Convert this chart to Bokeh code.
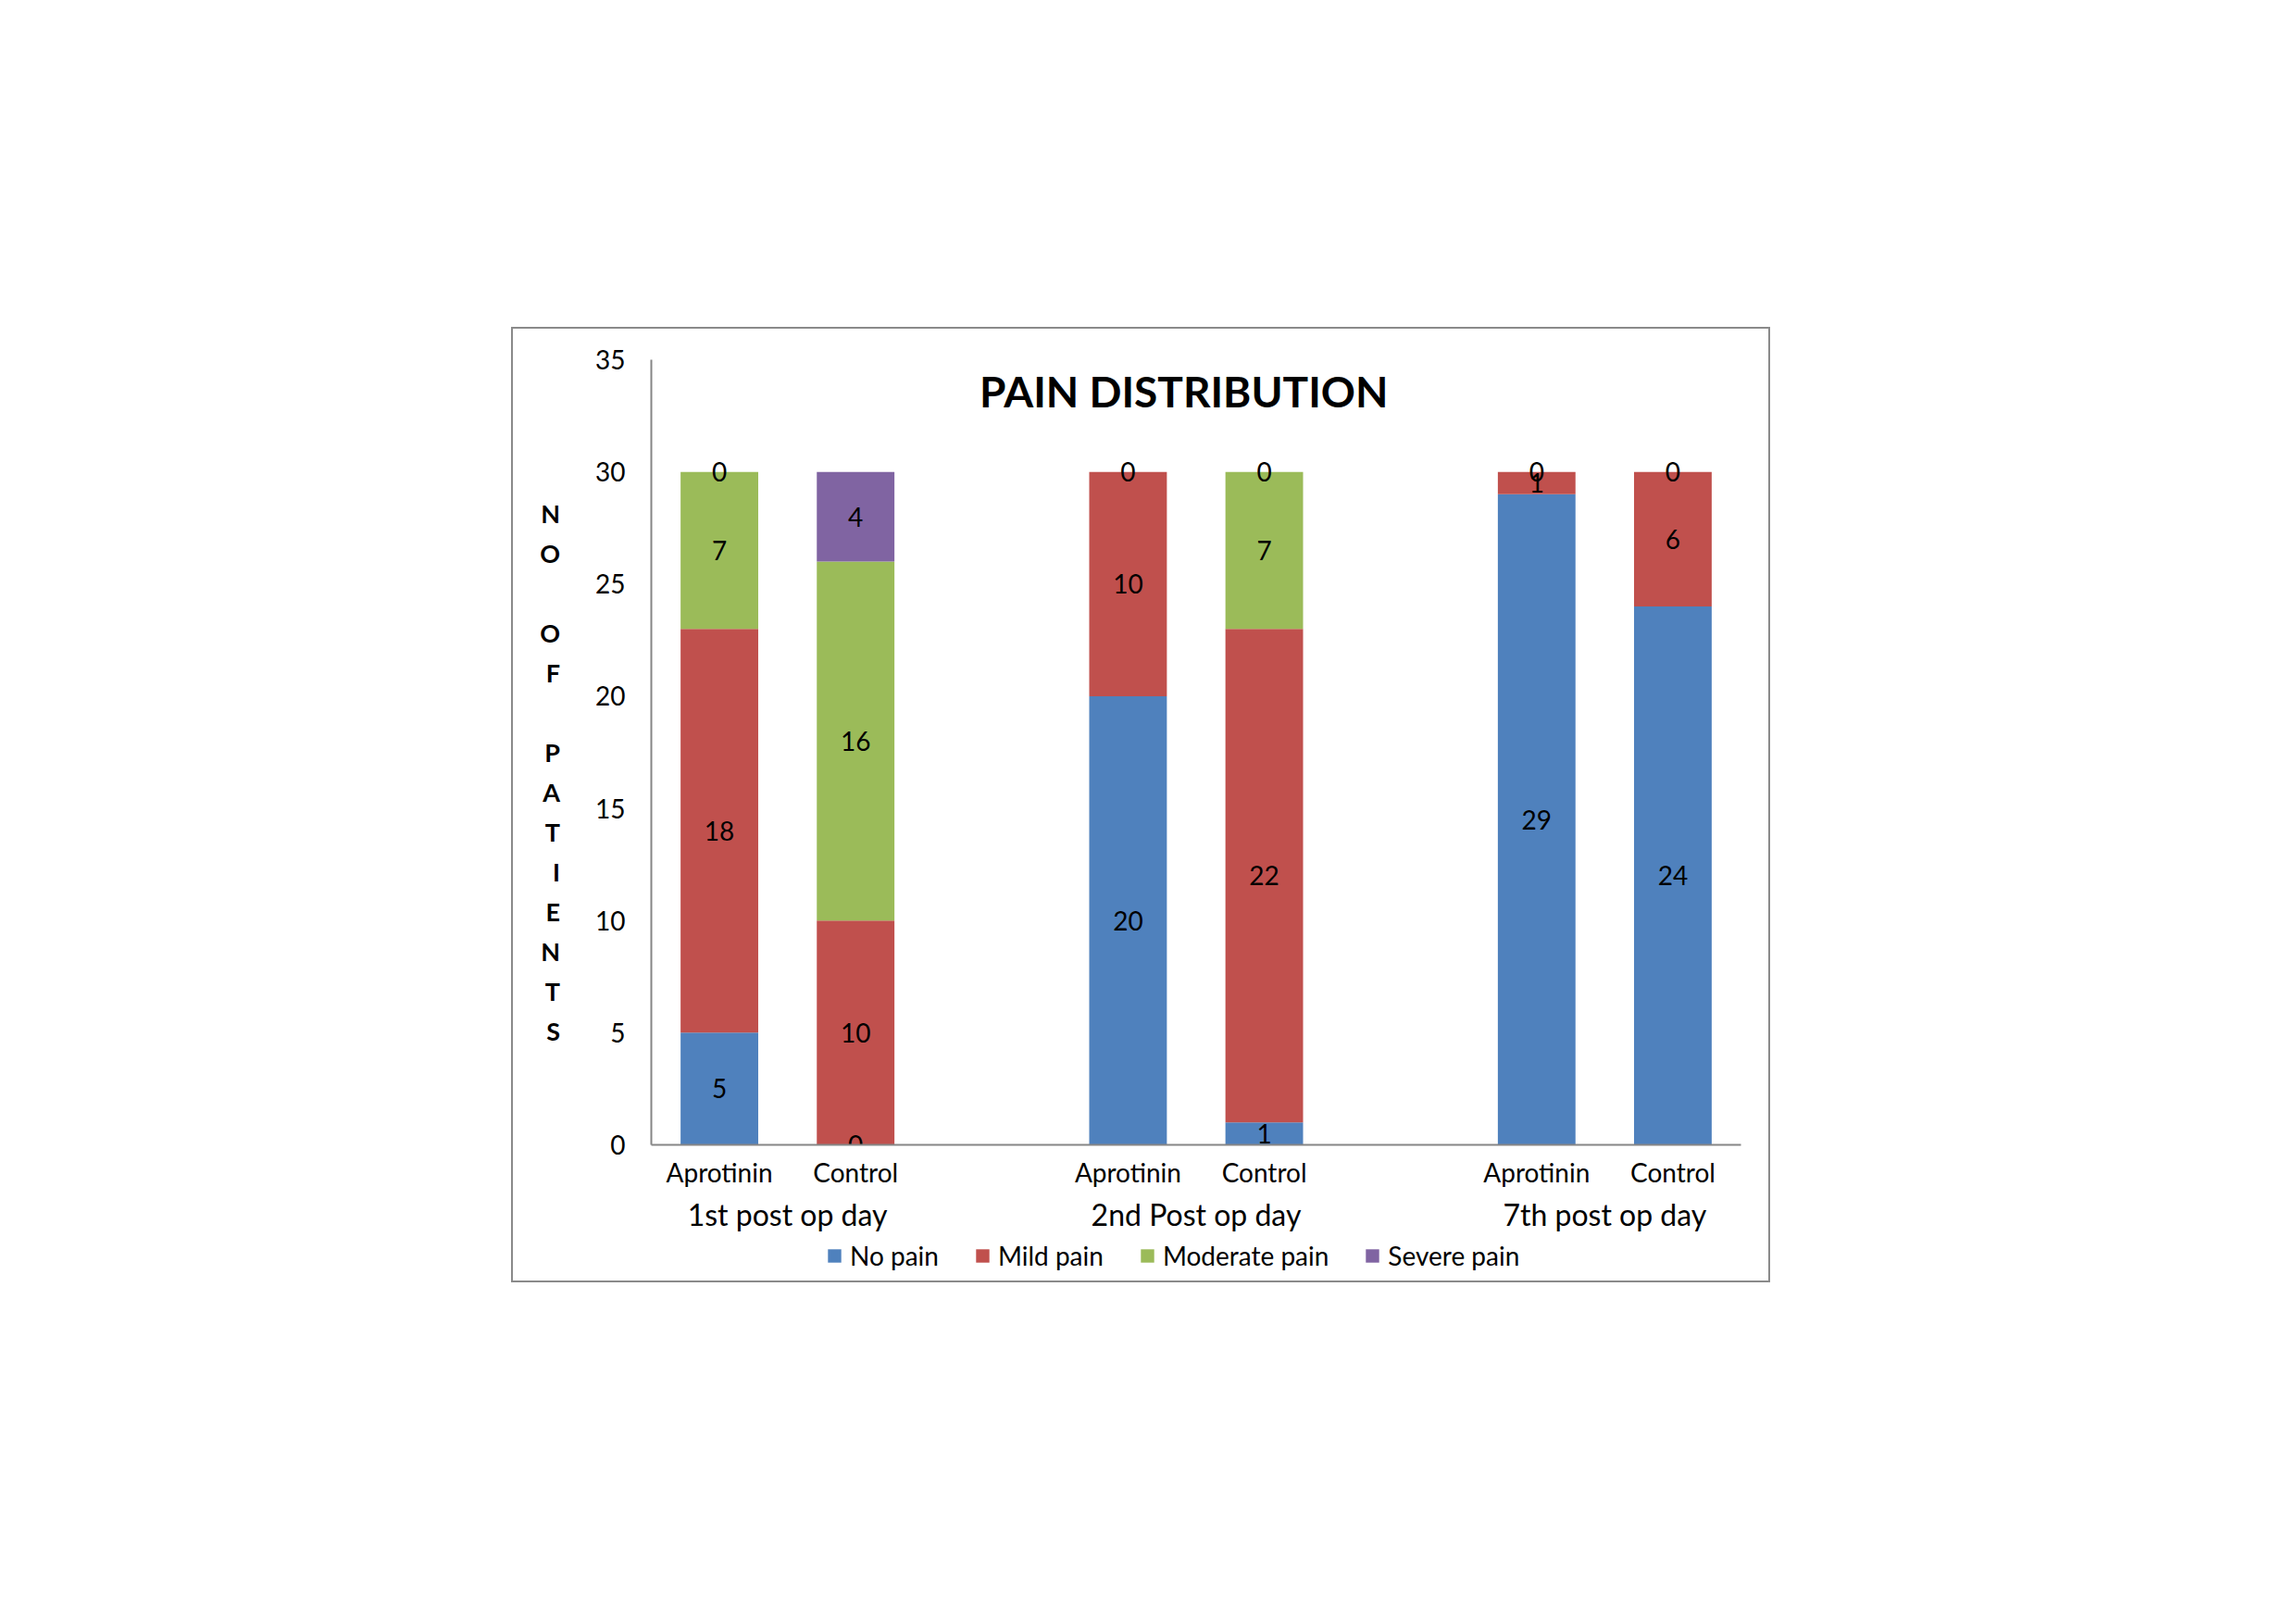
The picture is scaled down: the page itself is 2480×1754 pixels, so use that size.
from bokeh.plotting import figure
from bokeh.layouts import column
from bokeh.models import (ColumnDataSource, FactorRange, Range1d, Label, Legend,
                          LegendItem, SingleIntervalTicker)
from bokeh.core.properties import value
from bokeh.embed import file_html
from bokeh.resources import INLINE

# ---- data ----
days = ["1st post op day", "2nd Post op day", "7th post op day"]
groups = ["Aprotinin", "Control"]
series_names = ["No pain", "Mild pain", "Moderate pain", "Severe pain"]
no_pain = [5, 0, 20, 1, 29, 24]
mild_pain = [18, 10, 10, 22, 1, 6]
moderate_pain = [7, 16, 0, 7, 0, 0]
severe_pain = [0, 4, 0, 0, 0, 0]
colors = ["#4F81BD", "#C0504D", "#9BBB59", "#8064A2"]
title_text = "PAIN DISTRIBUTION"
y_label_words = ["NO", "OF", "PATIENTS"]

FONT = "Lato"
factors = [(d, g) for d in days for g in groups]
keys = ["s0", "s1", "s2", "s3"]
series = [no_pain, mild_pain, moderate_pain, severe_pain]

src = ColumnDataSource(data=dict(x=factors, s0=no_pain, s1=mild_pain,
                                 s2=moderate_pain, s3=severe_pain))

p = figure(x_range=FactorRange(*factors, factor_padding=0, group_padding=1.0,
                               range_padding=0),
           y_range=Range1d(0, 35), frame_width=1177, frame_height=848,
           output_backend="svg", toolbar_location=None,
           min_border_left=149, min_border_right=30,
           min_border_top=33, min_border_bottom=98)
p.outline_line_color = None
p.xgrid.visible = False
p.ygrid.visible = False
p.background_fill_color = "white"

renderers = p.vbar_stack(keys, x="x", width=0.57, color=colors, source=src,
                         line_color=None)

# data labels
lx, ly, lt = [], [], []
seen = set()
base = [0] * len(factors)
for vals in series:
    for i, v in enumerate(vals):
        yc = base[i] + v / 2
        key = (factors[i], yc, str(v))
        if key not in seen:
            seen.add(key)
            lx.append(factors[i]); ly.append(yc); lt.append(str(v))
        base[i] += v
p.text(x=lx, y=ly, text=lt, text_align="center", text_baseline="middle",
       text_font=value(FONT), text_font_size="28px", text_color="#000000")

# axes
ya = p.yaxis[0]
ya.ticker = SingleIntervalTicker(interval=5)
ya.major_tick_line_color = None
ya.minor_tick_line_color = None
ya.axis_line_color = "#868686"
ya.axis_line_width = 2
ya.major_label_standoff = 22
ya.major_label_text_font = FONT
ya.major_label_text_font_size = "28px"
ya.major_label_text_color = "#000000"
# stacked vertical y label
ya.axis_label = "\n" + "\n\n".join("\n".join(w) for w in y_label_words)
ya.axis_label_orientation = "horizontal"
ya.axis_label_text_align = "center"
ya.axis_label_text_font = FONT
ya.axis_label_text_font_size = "27px"
ya.axis_label_text_font_style = "bold"
ya.axis_label_text_line_height = 1.303
ya.axis_label_text_color = "#000000"
ya.axis_label_standoff = 35

xa = p.xaxis[0]
xa.major_tick_line_color = None
xa.minor_tick_line_color = None
xa.axis_line_color = "#868686"
xa.axis_line_width = 2
xa.major_label_standoff = 6
xa.major_label_text_font = FONT
xa.major_label_text_font_size = "28px"
xa.major_label_text_color = "#000000"
xa.group_text_font = FONT
xa.group_text_font_size = "32px"
xa.group_text_color = "#000000"
xa.group_text_font_style = "normal"
xa.separator_line_color = None

# title inside plot area
p.add_layout(Label(x=3.91, y=33.6, text=title_text, text_align="center",
                   text_baseline="middle", text_font=FONT,
                   text_font_size="46px", text_font_style="bold",
                   text_color="#000000"))

# legend strip (separate figure so the legend is not clipped)
p2 = figure(width=1356, height=49, x_range=FactorRange(*factors),
            y_range=Range1d(0, 1), x_axis_type=None, y_axis_type=None,
            output_backend="svg", toolbar_location=None,
            min_border=0)
p2.outline_line_color = None
p2.background_fill_color = "white"
proxies = p2.vbar_stack(keys, x="x", width=0.57, color=colors, source=src,
                        line_color=None)
for r in proxies:
    r.visible = False

legend = Legend(items=[LegendItem(label=n, renderers=[r])
                       for n, r in zip(series_names, proxies)],
                orientation="horizontal", location=(189, 10),
                label_text_font=FONT, label_text_font_size="28px",
                label_text_color="#000000",
                glyph_width=18, glyph_height=18, label_standoff=8,
                spacing=38, padding=0, margin=0,
                border_line_color=None, background_fill_alpha=0,
                inactive_fill_alpha=0)
p2.add_layout(legend, "center")

lay = column(p, p2, spacing=0)
lay.margin = (353, 0, 0, 552)
lay.styles = {"border": "2px solid #8a8a8a"}

open("out.html", "w").write(file_html(lay, INLINE))
